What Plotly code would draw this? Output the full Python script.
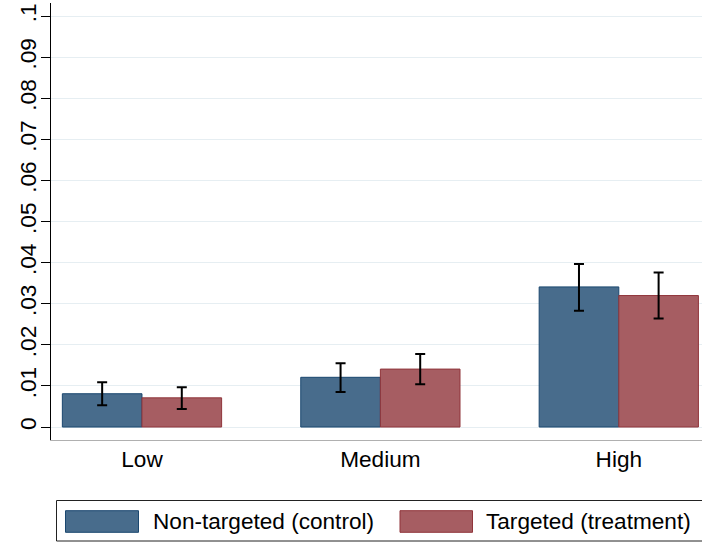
import plotly.graph_objects as go

categories = ["Low", "Medium", "High"]
series_names = ["Non-targeted (control)", "Targeted (treatment)"]
control_mean = [0.0081, 0.0121, 0.0341]
control_ci_low = [0.0053, 0.0085, 0.0283]
control_ci_high = [0.0109, 0.0155, 0.0397]
treat_mean = [0.0071, 0.0141, 0.0320]
treat_ci_low = [0.0044, 0.0104, 0.0264]
treat_ci_high = [0.0097, 0.0178, 0.0376]
y_tickvals = [0, 0.01, 0.02, 0.03, 0.04, 0.05, 0.06, 0.07, 0.08, 0.09, 0.1]
y_ticktext = ["0", ".01", ".02", ".03", ".04", ".05", ".06", ".07", ".08", ".09", ".1"]

fills = ["#486c8c", "#a65d62"]
lines = ["#1a476f", "#90353b"]
FONT = "Arial, Liberation Sans, sans-serif"

W, H = 702, 542
L, R, T, B = 51, 0, 3, 102
pw, ph = W - L - R, H - T - B

def px_x(p):
    return (p - L) / pw

def px_y(p):
    return (H - B - p) / ph

fig = go.Figure()
data = [(control_mean, control_ci_low, control_ci_high), (treat_mean, treat_ci_low, treat_ci_high)]
for i, (m, lo, hi) in enumerate(data):
    fig.add_trace(go.Bar(
        x=categories, y=m, name=series_names[i],
        marker=dict(color=fills[i], line=dict(color=lines[i], width=1)),
        error_y=dict(type="data", symmetric=False,
                     array=[h - v for h, v in zip(hi, m)],
                     arrayminus=[v - l for v, l in zip(m, lo)],
                     color="black", thickness=2, width=5),
        showlegend=False,
    ))

shapes = [dict(type="rect", xref="paper", yref="paper",
               x0=px_x(56.5), x1=px_x(720), y0=px_y(500.5), y1=px_y(541),
               line=dict(color="#222222", width=1), fillcolor="white", layer="above")]
annotations = []
sw = [(65.5, 138.5, 150.5), (400, 472.5, 483.5)]
for i, (a, b, t) in enumerate(sw):
    shapes.append(dict(type="rect", xref="paper", yref="paper",
                       x0=px_x(a), x1=px_x(b), y0=px_y(532.3), y1=px_y(510.7),
                       line=dict(color=lines[i], width=1), fillcolor=fills[i], layer="above"))
    annotations.append(dict(xref="paper", yref="paper", x=px_x(t), y=px_y(521.7),
                            text=series_names[i], showarrow=False, xanchor="left", yanchor="middle",
                            font=dict(size=22.6, color="black", family=FONT)))

fig.update_layout(
    width=W, height=H,
    margin=dict(l=L, r=R, t=T, b=B, pad=0, autoexpand=False),
    paper_bgcolor="white", plot_bgcolor="white",
    barmode="group", bargap=0.332, bargroupgap=0,
    font=dict(family=FONT, color="black"),
    shapes=shapes, annotations=annotations,
    xaxis=dict(range=[-0.3816, 2.349], showgrid=False, showline=True, linecolor="#b0b0b0",
               linewidth=1, ticks="", tickfont=dict(size=22.6), zeroline=False, automargin=False,
               ticklabelstandoff=-1),
    yaxis=dict(range=[-0.00316, 0.1032], tickvals=y_tickvals, ticktext=y_ticktext,
               tickangle=-90, tickfont=dict(size=22.6), showline=True, linecolor="black", linewidth=1,
               ticks="outside", ticklen=9, tickcolor="black", showgrid=True, gridcolor="#e6eef2",
               gridwidth=1, zeroline=False, automargin=False, ticklabelstandoff=-4),
)
fig.write_html("out.html", config={"displayModeBar": False},
               post_script="document.body.style.margin='0';document.body.style.overflow='hidden';")
